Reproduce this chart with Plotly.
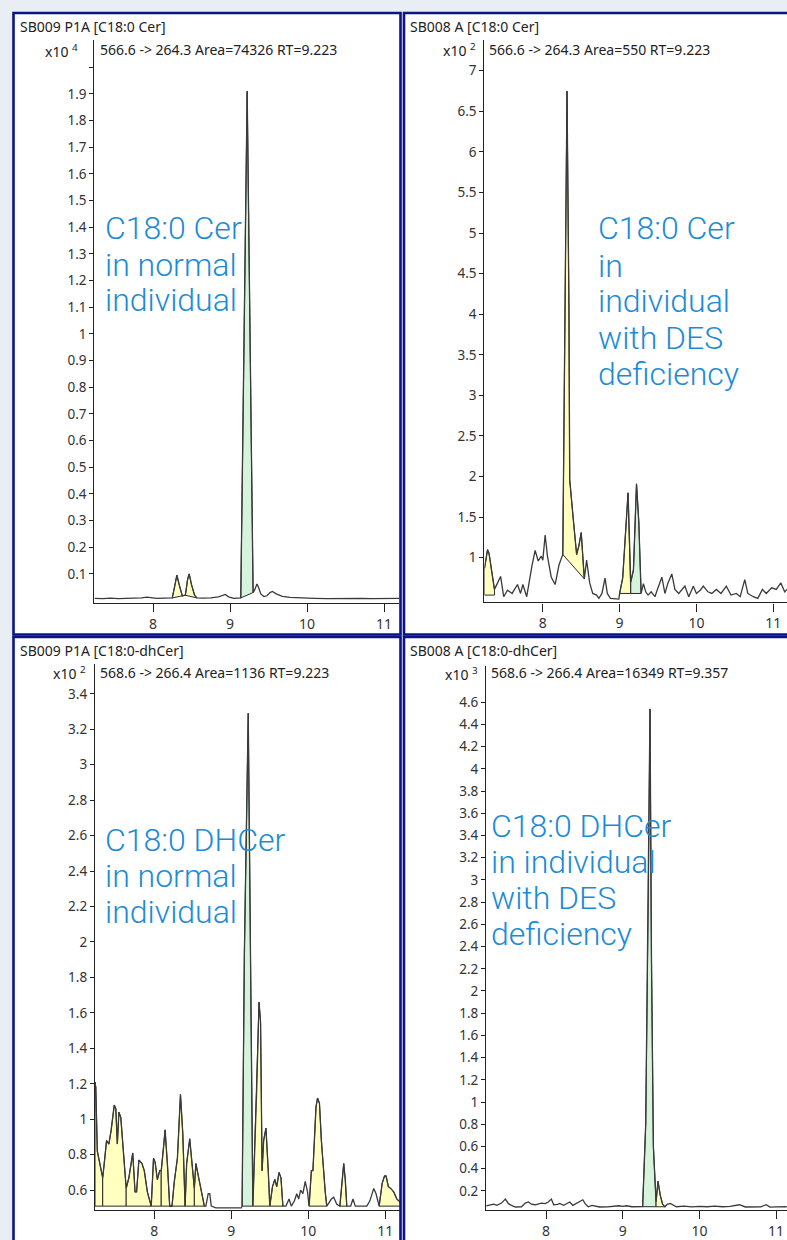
import plotly.graph_objects as go

W, H = 787, 1240

# ---------------- DATA ----------------
# Panel 1: SB009 P1A [C18:0 Cer]  (x10^4)
p1_time = [7.24, 7.35, 7.45, 7.55, 7.65, 7.75, 7.85, 7.92, 7.97, 8.05,
           8.15, 8.25, 8.28, 8.31, 8.34, 8.38, 8.42, 8.45, 8.47, 8.50,
           8.54, 8.57, 8.65, 8.75, 8.85, 8.90, 8.94, 8.98, 9.05, 9.14,
           9.18, 9.223, 9.26, 9.30, 9.32, 9.35, 9.37, 9.40, 9.44, 9.48,
           9.52, 9.55, 9.60, 9.68, 9.78, 9.90, 10.0, 10.1, 10.25, 10.4,
           10.55, 10.7, 10.85, 11.0, 11.1, 11.2]
p1_int = [0.008, 0.007, 0.009, 0.007, 0.008, 0.008, 0.010, 0.013, 0.010, 0.008,
          0.009, 0.010, 0.050, 0.095, 0.060, 0.018, 0.020, 0.080, 0.100, 0.060,
          0.020, 0.010, 0.009, 0.010, 0.014, 0.020, 0.023, 0.014, 0.008, 0.010,
          0.930, 1.910, 1.000, 0.030, 0.040, 0.062, 0.050, 0.025, 0.015, 0.018,
          0.030, 0.034, 0.025, 0.016, 0.012, 0.010, 0.009, 0.008, 0.007, 0.008,
          0.007, 0.008, 0.007, 0.008, 0.007, 0.008]
p1_pk_start = [8.25, 8.42, 9.14]
p1_pk_end = [8.42, 8.57, 9.30]
p1_pk_base0 = [0.01, 0.02, 0.01]
p1_pk_base1 = [0.02, 0.01, 0.03]
p1_pk_kind = ["y", "y", "g"]
p1_yticks = [0.1, 0.2, 0.3, 0.4, 0.5, 0.6, 0.7, 0.8, 0.9, 1.0,
             1.1, 1.2, 1.3, 1.4, 1.5, 1.6, 1.7, 1.8, 1.9, 2.0]
p1_yticklabels = ["0.1", "0.2", "0.3", "0.4", "0.5", "0.6", "0.7", "0.8", "0.9", "1",
                  "1.1", "1.2", "1.3", "1.4", "1.5", "1.6", "1.7", "1.8", "1.9", ""]

# Panel 2: SB008 A [C18:0 Cer]  (x10^2)
p2_time = [7.24, 7.28, 7.30, 7.37, 7.45, 7.49, 7.54, 7.60, 7.67, 7.71,
           7.74, 7.79, 7.86, 7.90, 7.94, 7.98, 8.00, 8.03, 8.06, 8.11,
           8.16, 8.21, 8.26, 8.29, 8.315, 8.34, 8.35, 8.40, 8.44, 8.47,
           8.50, 8.54, 8.57, 8.61, 8.65, 8.70, 8.73, 8.77, 8.81, 8.84,
           8.88, 8.99, 9.00, 9.04, 9.11, 9.145, 9.18, 9.22, 9.25, 9.28,
           9.31, 9.34, 9.37, 9.41, 9.46, 9.50, 9.55, 9.59, 9.63, 9.68,
           9.72, 9.77, 9.85, 9.90, 9.96, 10.00, 10.05, 10.09, 10.15, 10.20,
           10.26, 10.32, 10.39, 10.45, 10.52, 10.57, 10.63, 10.67, 10.74, 10.80,
           10.86, 10.91, 10.98, 11.04, 11.10, 11.15, 11.18]
p2_int = [0.87, 1.10, 1.05, 0.61, 0.77, 0.52, 0.60, 0.56, 0.67, 0.56,
          0.67, 0.52, 0.91, 1.09, 0.96, 1.02, 0.97, 1.28, 1.02, 0.76,
          0.67, 0.91, 1.04, 4.07, 6.75, 4.07, 1.96, 1.44, 1.04, 1.15,
          1.31, 0.74, 0.97, 0.69, 0.56, 0.54, 0.50, 0.56, 0.75, 0.56,
          0.50, 0.49, 0.56, 0.75, 1.80, 0.70, 0.85, 1.91, 1.44, 0.56,
          0.68, 0.58, 0.54, 0.58, 0.52, 0.63, 0.76, 0.56, 0.69, 0.80,
          0.61, 0.56, 0.65, 0.52, 0.65, 0.56, 0.60, 0.65, 0.58, 0.56,
          0.61, 0.56, 0.65, 0.54, 0.56, 0.52, 0.73, 0.56, 0.52, 0.50,
          0.61, 0.56, 0.63, 0.61, 0.69, 0.58, 0.61]
p2_pk_start = [7.24, 8.26, 9.00, 9.145]
p2_pk_end = [7.37, 8.54, 9.145, 9.28]
p2_pk_base0 = [0.54, 1.04, 0.56, 0.56]
p2_pk_base1 = [0.54, 0.74, 0.56, 0.56]
p2_pk_kind = ["y", "y", "y", "g"]
p2_yticks = [1.0, 1.5, 2.0, 2.5, 3.0, 3.5, 4.0, 4.5, 5.0, 5.5, 6.0, 6.5, 7.0]
p2_yticklabels = ["1", "1.5", "2", "2.5", "3", "3.5", "4", "4.5", "5", "5.5", "6", "6.5", "7"]

# Panel 3: SB009 P1A [C18:0-dhCer]  (x10^2)
p3_time = [7.23, 7.24, 7.26, 7.29, 7.33, 7.35, 7.38, 7.41, 7.44, 7.48,
           7.50, 7.52, 7.54, 7.565, 7.60, 7.635, 7.67, 7.72, 7.75, 7.77,
           7.80, 7.84, 7.87, 7.91, 7.96, 7.99, 8.01, 8.04, 8.07, 8.09,
           8.12, 8.14, 8.17, 8.20, 8.23, 8.26, 8.30, 8.34, 8.37, 8.40,
           8.42, 8.46, 8.49, 8.52, 8.54, 8.59, 8.63, 8.65, 8.67, 8.70,
           8.72, 8.74, 8.80, 9.13, 9.14, 9.17, 9.22, 9.25, 9.28, 9.33,
           9.36, 9.38, 9.40, 9.42, 9.45, 9.48, 9.50, 9.535, 9.565, 9.59,
           9.62, 9.645, 9.67, 9.71, 9.75, 9.78, 9.82, 9.85, 9.875, 9.90,
           9.93, 9.96, 9.99, 10.01, 10.04, 10.06, 10.10, 10.12, 10.145, 10.17,
           10.19, 10.22, 10.24, 10.27, 10.30, 10.33, 10.37, 10.41, 10.44, 10.46,
           10.48, 10.50, 10.55, 10.58, 10.61, 10.76, 10.80, 10.85, 10.88, 10.92,
           10.96, 10.99, 11.01, 11.04, 11.07, 11.11, 11.15, 11.20]
p3_int = [1.21, 1.18, 0.82, 0.76, 0.67, 0.75, 0.88, 0.86, 0.94, 1.08,
          1.06, 0.86, 1.04, 1.01, 0.78, 0.61, 0.67, 0.81, 0.59, 0.59,
          0.77, 0.75, 0.71, 0.59, 0.51, 0.78, 0.76, 0.66, 0.71, 0.71,
          0.84, 0.94, 0.75, 0.51, 0.51, 0.65, 0.78, 1.14, 0.92, 0.51,
          0.75, 0.89, 0.75, 0.61, 0.75, 0.64, 0.54, 0.51, 0.51, 0.58,
          0.58, 0.51, 0.50, 0.50, 0.51, 1.94, 3.29, 1.94, 0.51, 1.17,
          1.66, 1.55, 0.71, 0.88, 0.95, 0.71, 0.51, 0.62, 0.66, 0.62,
          0.70, 0.67, 0.51, 0.51, 0.55, 0.51, 0.54, 0.58, 0.55, 0.60,
          0.58, 0.65, 0.59, 0.51, 0.71, 0.71, 1.07, 1.12, 1.09, 0.88,
          0.75, 0.59, 0.51, 0.53, 0.55, 0.56, 0.52, 0.51, 0.68, 0.75,
          0.66, 0.51, 0.51, 0.55, 0.51, 0.51, 0.54, 0.61, 0.58, 0.51,
          0.64, 0.68, 0.68, 0.62, 0.61, 0.59, 0.55, 0.53]
p3_pk_start = [7.23, 7.33, 7.635, 7.96, 8.09, 8.23, 8.40, 8.52, 9.14, 9.28, 9.50, 10.01, 10.41, 10.92]
p3_pk_end = [7.33, 7.635, 7.96, 8.09, 8.23, 8.40, 8.52, 8.65, 9.28, 9.50, 9.67, 10.24, 10.50, 11.20]
p3_pk_base0 = [0.51] * 14
p3_pk_base1 = [0.51] * 14
p3_pk_kind = ["y", "y", "y", "y", "y", "y", "y", "y", "g", "y", "y", "y", "y", "y"]
p3_yticks = [0.6, 0.8, 1.0, 1.2, 1.4, 1.6, 1.8, 2.0, 2.2, 2.4, 2.6, 2.8, 3.0, 3.2, 3.4]
p3_yticklabels = ["0.6", "0.8", "1", "1.2", "1.4", "1.6", "1.8", "2", "2.2", "2.4",
                  "2.6", "2.8", "3", "3.2", "3.4"]

# Panel 4: SB008 A [C18:0-dhCer]  (x10^3)
p4_time = [7.22, 7.27, 7.32, 7.36, 7.42, 7.47, 7.51, 7.55, 7.60, 7.68,
           7.73, 7.77, 7.81, 7.86, 7.90, 7.94, 7.99, 8.03, 8.07, 8.10,
           8.15, 8.18, 8.23, 8.27, 8.31, 8.35, 8.39, 8.43, 8.48, 8.51,
           8.55, 8.60, 8.70, 8.80, 8.88, 8.95, 9.00, 9.05, 9.12, 9.20,
           9.26, 9.30, 9.33, 9.356, 9.375, 9.40, 9.435, 9.46, 9.49, 9.52,
           9.55, 9.58, 9.62, 9.65, 9.70, 9.80, 9.90, 10.0, 10.1, 10.2,
           10.3, 10.4, 10.52, 10.6, 10.7, 10.8, 10.87, 10.92, 11.0, 11.14]
p4_int = [0.065, 0.075, 0.080, 0.070, 0.090, 0.126, 0.085, 0.070, 0.055, 0.057,
          0.090, 0.100, 0.080, 0.075, 0.085, 0.090, 0.085, 0.100, 0.126, 0.075,
          0.078, 0.087, 0.070, 0.087, 0.100, 0.070, 0.085, 0.095, 0.120, 0.085,
          0.057, 0.070, 0.055, 0.056, 0.058, 0.066, 0.060, 0.066, 0.057, 0.060,
          0.058, 0.800, 2.600, 4.540, 2.300, 0.600, 0.100, 0.287, 0.160, 0.080,
          0.057, 0.078, 0.087, 0.078, 0.057, 0.062, 0.056, 0.060, 0.057, 0.062,
          0.057, 0.060, 0.075, 0.055, 0.057, 0.056, 0.075, 0.054, 0.056, 0.057]
p4_pk_start = [9.26, 9.435]
p4_pk_end = [9.435, 9.55]
p4_pk_base0 = [0.058, 0.057]
p4_pk_base1 = [0.057, 0.057]
p4_pk_kind = ["g", "y"]
p4_yticks = [0.2, 0.4, 0.6, 0.8, 1.0, 1.2, 1.4, 1.6, 1.8, 2.0, 2.2, 2.4,
             2.6, 2.8, 3.0, 3.2, 3.4, 3.6, 3.8, 4.0, 4.2, 4.4, 4.6]
p4_yticklabels = ["0.2", "0.4", "0.6", "0.8", "1", "1.2", "1.4", "1.6", "1.8", "2", "2.2", "2.4",
                  "2.6", "2.8", "3", "3.2", "3.4", "3.6", "3.8", "4", "4.2", "4.4", "4.6"]

x_ticks = [8, 9, 10, 11]
x_ticklabels = ["8", "9", "10", "11"]

titles = ["SB009 P1A [C18:0 Cer]", "SB008 A [C18:0 Cer]",
          "SB009 P1A [C18:0-dhCer]", "SB008 A [C18:0-dhCer]"]
exponents = ["4", "2", "2", "3"]
transitions = ["566.6 -> 264.3 Area=74326 RT=9.223",
               "566.6 -> 264.3 Area=550 RT=9.223",
               "568.6 -> 266.4 Area=1136 RT=9.223",
               "568.6 -> 266.4 Area=16349 RT=9.357"]
labels = [["C18:0 Cer", "in normal", "individual"],
          ["C18:0 Cer", "in", "individual", "with DES", "deficiency"],
          ["C18:0 DHCer", "in normal", "individual"],
          ["C18:0 DHCer", "in individual", "with DES", "deficiency"]]

# ---------------- LAYOUT GEOMETRY (pixels) ----------------
geo = [
    dict(xp8=153.0, xs=77.0, xr=[7.24, 11.2], yv=0.0, yp=603.0, ys=267.8, yr=[-0.008, 2.1],
         box=[13.5, 13.0, 400.5, 637.0], title=(18, 27), expo=(80, 51), trans=(98, 50),
         lab_x=103, lab_y=[229, 266, 301]),
    dict(xp8=543.0, xs=77.0, xr=[7.24, 11.18], yv=1.0, yp=560.0, ys=81.5, yr=[0.45, 7.38],
         box=[404.0, 13.0, 800.0, 637.0], title=(408, 27), expo=(478, 50), trans=(487, 50),
         lab_x=596, lab_y=[229, 267, 302, 339, 376]),
    dict(xp8=154.3, xs=77.0, xr=[7.23, 11.2], yv=0.6, yp=1195.0, ys=178.0, yr=[0.49, 3.57],
         box=[13.5, 639.5, 400.5, 1260.0], title=(18, 653), expo=(88, 676), trans=(98, 675),
         lab_x=103, lab_y=[843, 880, 916]),
    dict(xp8=546.0, xs=76.7, xr=[7.22, 11.14], yv=0.2, yp=1195.7, ys=111.5, yr=[0.03, 4.93],
         box=[404.0, 639.5, 800.0, 1260.0], title=(408, 653), expo=(480, 677), trans=(489, 675),
         lab_x=489, lab_y=[829, 865, 902, 938]),
]

series = [
    (p1_time, p1_int, p1_pk_start, p1_pk_end, p1_pk_base0, p1_pk_base1, p1_pk_kind, p1_yticks, p1_yticklabels),
    (p2_time, p2_int, p2_pk_start, p2_pk_end, p2_pk_base0, p2_pk_base1, p2_pk_kind, p2_yticks, p2_yticklabels),
    (p3_time, p3_int, p3_pk_start, p3_pk_end, p3_pk_base0, p3_pk_base1, p3_pk_kind, p3_yticks, p3_yticklabels),
    (p4_time, p4_int, p4_pk_start, p4_pk_end, p4_pk_base0, p4_pk_base1, p4_pk_kind, p4_yticks, p4_yticklabels),
]

FILL = {"y": "rgb(255,255,192)", "g": "rgb(214,244,220)"}
TXT = "#333333"
BLUE = "#1c8bd6"
NAVY = "#0c1488"
FONT = "Noto Sans"


def fx(px):
    return px / W


def fy(py):
    return 1 - py / H


fig = go.Figure()
layout = dict(width=W, height=H, margin=dict(l=0, r=0, t=0, b=0),
              paper_bgcolor="#e9eef4", plot_bgcolor="rgba(0,0,0,0)",
              showlegend=False, shapes=[], annotations=[])

for i, (g, s) in enumerate(zip(geo, series)):
    T, V, ps, pe, b0, b1, kind, ytv, ytt = s
    n = "" if i == 0 else str(i + 1)
    xa, ya = "x" + n, "y" + n

    x0 = g["xp8"] + (g["xr"][0] - 8) * g["xs"]
    x1 = g["xp8"] + (g["xr"][1] - 8) * g["xs"]
    y0 = g["yp"] - (g["yr"][0] - g["yv"]) * g["ys"]
    y1 = g["yp"] - (g["yr"][1] - g["yv"]) * g["ys"]

    layout["xaxis" + n] = dict(domain=[fx(x0), min(1, fx(x1))], range=g["xr"], anchor=ya,
                               showline=True, linecolor="#222", linewidth=1.4,
                               ticks="outside", ticklen=8, tickwidth=1.2, tickcolor="#222",
                               tickvals=x_ticks, ticktext=x_ticklabels,
                               tickfont=dict(family=FONT, size=14, color=TXT),
                               showgrid=False, zeroline=False, fixedrange=True)
    layout["yaxis" + n] = dict(domain=[fy(y0), fy(y1)], range=g["yr"], anchor=xa,
                               showline=True, linecolor="#222", linewidth=1.4,
                               ticks="outside", ticklen=4, tickwidth=1.2, tickcolor="#222",
                               tickvals=ytv, ticktext=ytt,
                               tickfont=dict(family=FONT, size=13.5, color=TXT),
                               showgrid=False, zeroline=False, fixedrange=True)

    bx = g["box"]
    layout["shapes"].append(dict(type="rect", xref="paper", yref="paper",
                                 x0=fx(bx[0]), x1=fx(bx[2]), y0=fy(bx[3]), y1=fy(bx[1]),
                                 fillcolor="white", line=dict(width=0), layer="below"))
    layout["shapes"].append(dict(type="rect", xref="paper", yref="paper",
                                 x0=fx(bx[0]), x1=fx(bx[2]), y0=fy(bx[3]), y1=fy(bx[1]),
                                 fillcolor="rgba(0,0,0,0)", line=dict(width=2.6, color=NAVY),
                                 layer="above"))

    for a, b, ba, bb, k in zip(ps, pe, b0, b1, kind):
        sel = [(t, v) for t, v in zip(T, V) if a - 1e-9 <= t <= b + 1e-9]
        xs = [t for t, _ in sel] + [b, a, sel[0][0]]
        ys = [v for _, v in sel] + [bb, ba, sel[0][1]]
        fig.add_trace(go.Scatter(x=xs, y=ys, xaxis=xa, yaxis=ya, mode="lines",
                                 fill="toself", fillcolor=FILL[k],
                                 line=dict(color="#2a2a2a", width=1.0),
                                 hoverinfo="skip"))
    fig.add_trace(go.Scatter(x=T, y=V, xaxis=xa, yaxis=ya, mode="lines",
                             line=dict(color="#3a3a3a", width=1.3)))

    layout["annotations"].append(dict(text=titles[i], xref="paper", yref="paper",
                                      x=fx(g["title"][0]), y=fy(g["title"][1]),
                                      xanchor="left", yanchor="middle", showarrow=False,
                                      font=dict(family=FONT, size=14, color="#222")))
    layout["annotations"].append(dict(text="x10 <sup>" + exponents[i] + "</sup>",
                                      xref="paper", yref="paper",
                                      x=fx(g["expo"][0]), y=fy(g["expo"][1]),
                                      xanchor="right", yanchor="middle", showarrow=False,
                                      font=dict(family=FONT, size=14, color="#222")))
    layout["annotations"].append(dict(text=transitions[i], xref="paper", yref="paper",
                                      x=fx(g["trans"][0]), y=fy(g["trans"][1]),
                                      xanchor="left", yanchor="middle", showarrow=False,
                                      font=dict(family=FONT, size=14, color="#222")))
    for line, ly in zip(labels[i], g["lab_y"]):
        layout["annotations"].append(dict(text=line, xref="paper", yref="paper",
                                          x=fx(g["lab_x"]), y=fy(ly),
                                          xanchor="left", yanchor="middle", showarrow=False,
                                          font=dict(family="Roboto Light, Roboto", size=32,
                                                    color=BLUE, weight=300)))

fig.update_layout(**layout)
fig.write_html("out.html", config={"displayModeBar": False},
               post_script="document.body.style.margin='0';document.body.style.overflow='hidden';")
